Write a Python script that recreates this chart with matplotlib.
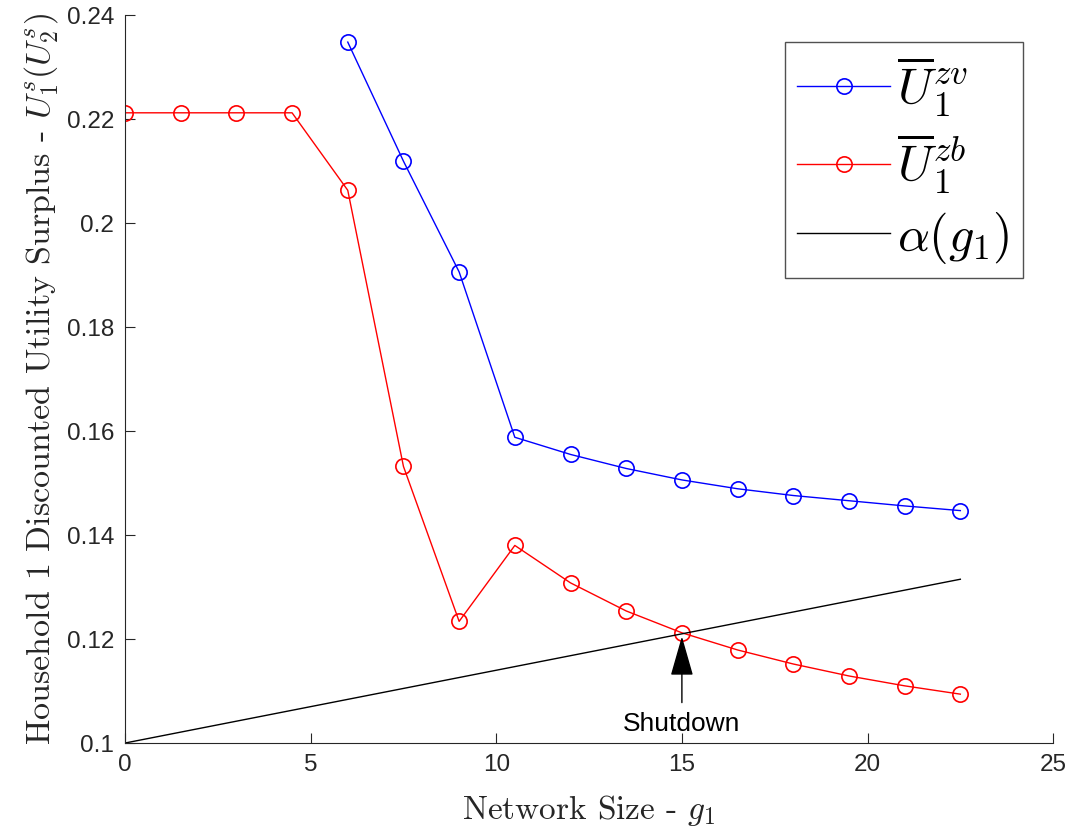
import matplotlib.pyplot as plt

plt.rcParams['mathtext.fontset'] = 'cm'
plt.rcParams['font.family'] = ['Liberation Sans', 'DejaVu Sans']
plt.rcParams['axes.unicode_minus'] = False

# network size values
g_blue = [6, 7.5, 9, 10.5, 12, 13.5, 15, 16.5, 18, 19.5, 21, 22.5]
u_zv = [0.2348, 0.2119, 0.1906, 0.1588, 0.1555, 0.1528, 0.1506, 0.1489,
        0.1476, 0.1466, 0.1456, 0.1447]

g_red = [0, 1.5, 3, 4.5, 6, 7.5, 9, 10.5, 12, 13.5, 15, 16.5, 18, 19.5, 21, 22.5]
u_zb = [0.2212, 0.2212, 0.2212, 0.2212, 0.2063, 0.1532, 0.1234, 0.1380,
        0.1308, 0.1254, 0.1212, 0.1179, 0.1152, 0.1129, 0.1110, 0.1094]

g_alpha = [0, 22.5]
alpha = [0.1, 0.1315]

xticks = [0, 5, 10, 15, 20, 25]
yticks = [0.1, 0.12, 0.14, 0.16, 0.18, 0.2, 0.22, 0.24]

fig = plt.figure(figsize=(10.73, 8.36), dpi=100)
ax = fig.add_axes([0.1165, 0.1112, 0.865, 0.8708])

ax.plot(g_blue, u_zv, color='blue', lw=1, marker='o', ms=11, mfc='none',
        mew=1.2, label=r'$\overline{U}_1^{zv}$')
ax.plot(g_red, u_zb, color='red', lw=1, marker='o', ms=11, mfc='none',
        mew=1.2, label=r'$\overline{U}_1^{zb}$')
ax.plot(g_alpha, alpha, color='black', lw=1, label=r'$\alpha(g_1)$')

ax.annotate('Shutdown', xy=(15, 0.1205), xytext=(15, 0.1036),
            ha='center', va='center', fontsize=19,
            arrowprops=dict(arrowstyle='-|>,head_length=1.4,head_width=0.4',
                            color='black', lw=1, shrinkA=5, shrinkB=0,
                            mutation_scale=18))

ax.set_xlim(0, 25)
ax.set_ylim(0.1, 0.24)
ax.set_xticks(xticks)
ax.set_yticks(yticks)
ax.set_xticklabels([str(t) for t in xticks])
ax.set_yticklabels(['0.1', '0.12', '0.14', '0.16', '0.18', '0.2', '0.22', '0.24'])
ax.tick_params(direction='in', length=7, labelsize=17.5, colors='#262626', pad=8)
for s in ['top', 'right']:
    ax.spines[s].set_visible(False)
for s in ['left', 'bottom']:
    ax.spines[s].set_color('#262626')

ax.set_xlabel('Network Size - $g_1$', fontsize=24, color='#262626',
              family='cmr10', labelpad=12)
ax.set_ylabel('Household 1 Discounted Utility Surplus - $U_1^s(U_2^s)$',
              fontsize=24.5, color='#262626', family='cmr10', labelpad=4)

leg = ax.legend(loc='upper right', bbox_to_anchor=(0.967, 0.963), fontsize=36,
                frameon=True, fancybox=False, edgecolor='#262626',
                handlelength=1.85, labelspacing=0.27, borderpad=0.25,
                handletextpad=0.15, borderaxespad=0)
leg.get_frame().set_linewidth(1)

fig.savefig('out.png', dpi=100)
